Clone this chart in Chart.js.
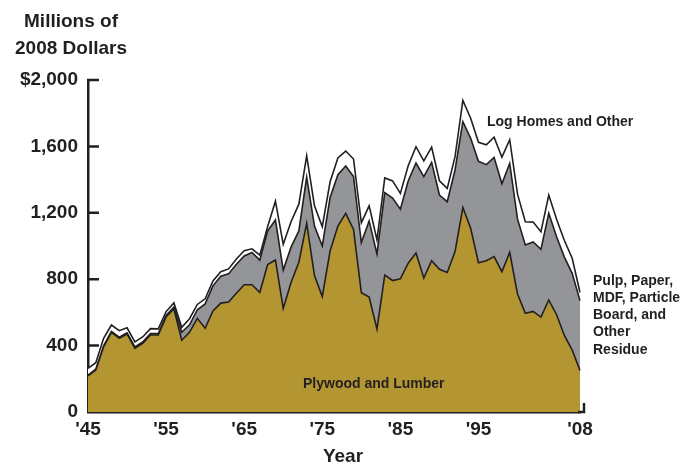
<!DOCTYPE html>
<html>
<head>
<meta charset="utf-8">
<script src="https://cdn.jsdelivr.net/npm/chart.js@4.4.1/dist/chart.umd.min.js"></script>
<style>
  body { margin: 0; background: #fff; }
  #wrap { width: 686px; height: 465px; position: relative; }
</style>
</head>
<body>
<div id="wrap"><canvas id="grafico-area"></canvas></div>
<script>
// years 1945 - 2008
const anos = [1945, 1946, 1947, 1948, 1949, 1950, 1951, 1952, 1953, 1954,
  1955, 1956, 1957, 1958, 1959, 1960, 1961, 1962, 1963, 1964,
  1965, 1966, 1967, 1968, 1969, 1970, 1971, 1972, 1973, 1974,
  1975, 1976, 1977, 1978, 1979, 1980, 1981, 1982, 1983, 1984,
  1985, 1986, 1987, 1988, 1989, 1990, 1991, 1992, 1993, 1994,
  1995, 1996, 1997, 1998, 1999, 2000, 2001, 2002, 2003, 2004,
  2005, 2006, 2007, 2008];

// millions of 2008 dollars
const plywoodLumber = [217, 253, 393, 480, 444, 470, 384, 414, 464, 464,
  572, 622, 432, 480, 564, 504, 609, 656, 662, 715,
  767, 767, 720, 888, 915, 624, 780, 902, 1136, 822,
  695, 970, 1120, 1197, 1100, 719, 692, 500, 825, 792,
  802, 896, 958, 807, 912, 860, 840, 966, 1232, 1107,
  899, 911, 936, 845, 962, 710, 594, 606, 572, 675,
  586, 461, 373, 250];

const pulpResidue = [5, 5, 6, 6, 7, 7, 8, 8, 8, 9,
  9, 10, 48, 45, 52, 147, 151, 162, 170, 175,
  173, 194, 195, 202, 242, 231, 213, 189, 279, 298,
  305, 322, 310, 285, 318, 302, 459, 452, 497, 497,
  420, 496, 542, 611, 592, 447, 427, 492, 517, 542,
  611, 579, 597, 530, 536, 452, 412, 418, 408, 522,
  470, 472, 462, 420];

const logHomes = [41, 39, 45, 38, 39, 30, 30, 30, 30, 28,
  24, 25, 30, 37, 32, 31, 30, 27, 30, 32,
  31, 22, 30, 26, 113, 155, 153, 161, 128, 122,
  116, 95, 100, 90, 106, 119, 91, 84, 88, 103,
  95, 91, 98, 95, 92, 86, 80, 80, 128, 121,
  115, 120, 122, 160, 142, 150, 140, 120, 106, 110,
  105, 100, 91, 50];

const anosMarcados = [1945, 1955, 1965, 1975, 1985, 1995, 2008];
const rotulosAnos = ["'45", "'55", "'65", "'75", "'85", "'95", "'08"];
const valoresY = [0, 400, 800, 1200, 1600, 2000];
const rotulosY = ['0', '400', '800', '1,200', '1,600', '$2,000'];

const preto = '#231f20';
const fonte = '"Liberation Sans", Arial, sans-serif';

Chart.defaults.font.family = fonte;
Chart.defaults.color = preto;

// inward ticks on the y axis, end tick on x axis, and the text labels
const extras = {
  id: 'extras',
  afterDatasetsDraw(chart) {
    const { ctx, chartArea, scales } = chart;
    ctx.save();
    ctx.strokeStyle = preto;
    ctx.lineWidth = 2.5;
    ctx.beginPath();
    valoresY.forEach(v => {
      if (v === 0) return;
      const y = scales.y.getPixelForValue(v);
      ctx.moveTo(chartArea.left - 1, y);
      ctx.lineTo(chartArea.left + 11, y);
    });
    ctx.moveTo(chartArea.right - 2, chartArea.bottom);
    ctx.lineTo(chartArea.right + 4, chartArea.bottom);
    ctx.lineTo(chartArea.right + 4, chartArea.bottom - 9);
    ctx.stroke();

    ctx.fillStyle = preto;
    ctx.textBaseline = 'middle';
    ctx.font = 'bold 19px ' + fonte;
    ctx.textAlign = 'center';
    ctx.fillText('Millions of', 71, 22);
    ctx.fillText('2008 Dollars', 71, 49);
    ctx.fillText('Year', 343, 457);

    ctx.font = 'bold 14px ' + fonte;
    ctx.textAlign = 'left';
    ctx.fillText('Log Homes and Other', 487, 122);
    ctx.fillText('Plywood and Lumber', 303, 384);
    const pulp = ['Pulp, Paper,', 'MDF, Particle', 'Board, and', 'Other', 'Residue'];
    pulp.forEach((t, i) => ctx.fillText(t, 593, 281 + i * 17.2));
    ctx.restore();
  }
};

const ctx = document.getElementById('grafico-area');
new Chart(ctx, {
  type: 'line',
  data: {
    labels: anos,
    datasets: [{
      label: 'Plywood and Lumber',
      data: plywoodLumber,
      backgroundColor: '#b39632',
      borderColor: preto,
      borderWidth: 1.6,
      fill: 'origin'
    },
    {
      label: 'Pulp, Paper, MDF, Particle Board, and Other Residue',
      data: pulpResidue,
      backgroundColor: '#939598',
      borderColor: preto,
      borderWidth: 1.6,
      fill: '-1'
    },
    {
      label: 'Log Homes and Other',
      data: logHomes,
      backgroundColor: '#ffffff',
      borderColor: preto,
      borderWidth: 1.6,
      fill: '-1'
    }]
  },
  options: {
    responsive: true,
    maintainAspectRatio: false,
    animation: false,
    elements: {
      point: { radius: 0 },
      line: { tension: 0, borderJoinStyle: 'miter' }
    },
    layout: {
      padding: { top: 80, right: 106, bottom: 0, left: 0 }
    },
    plugins: {
      legend: { display: false },
      tooltip: { enabled: false }
    },
    scales: {
      x: {
        offset: false,
        grid: { display: false, drawTicks: false },
        border: { display: true, color: preto, width: 2.5 },
        ticks: {
          autoSkip: false,
          maxRotation: 0,
          padding: 6,
          font: { size: 19, weight: 'bold' },
          callback: function (value, index) {
            const i = anosMarcados.indexOf(anos[index]);
            return i >= 0 ? rotulosAnos[i] : '';
          }
        },
        afterFit: function (scale) { scale.height = 53; }
      },
      y: {
        stacked: true,
        min: 0,
        max: 2000,
        grid: { display: false, drawTicks: false },
        border: { display: true, color: preto, width: 2.5 },
        afterBuildTicks: function (scale) {
          scale.ticks = valoresY.map(v => ({ value: v }));
        },
        ticks: {
          padding: 10,
          font: { size: 19, weight: 'bold' },
          callback: function (value) {
            return rotulosY[valoresY.indexOf(value)];
          }
        },
        afterFit: function (scale) { scale.width = 88; }
      }
    }
  },
  plugins: [extras]
});
</script>
</body>
</html>
